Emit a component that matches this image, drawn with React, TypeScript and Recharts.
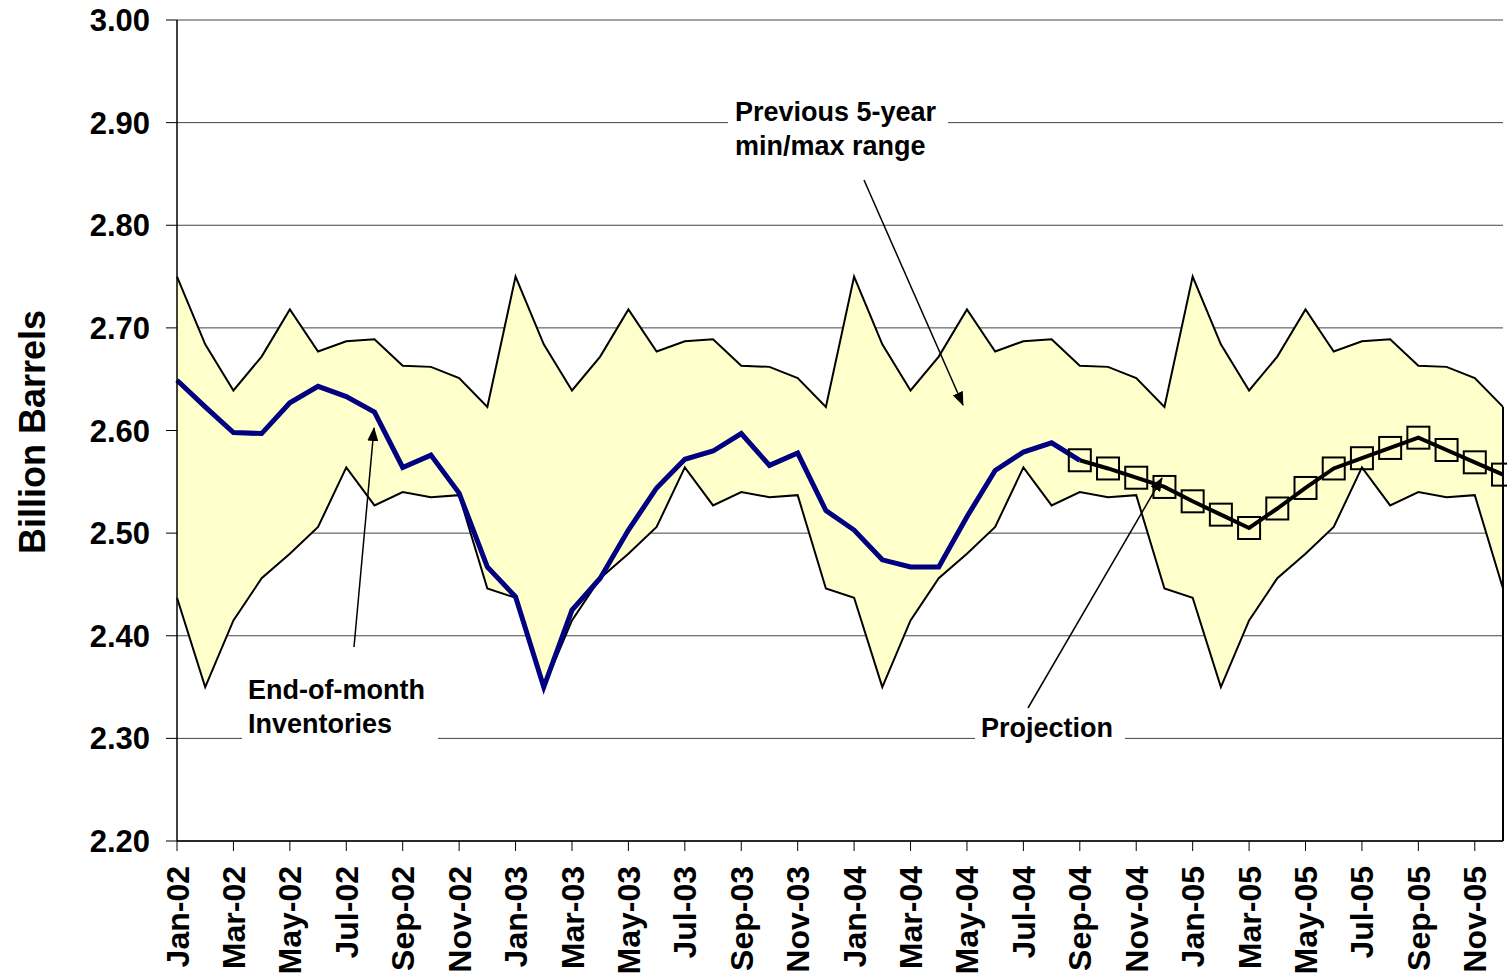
import React from "react";
import {
  ComposedChart,
  Area,
  Line,
  XAxis,
  YAxis,
  CartesianGrid,
  ReferenceLine,
} from "recharts";

const months = [
  "Jan-02", "Feb-02", "Mar-02", "Apr-02", "May-02", "Jun-02", "Jul-02", "Aug-02", "Sep-02", "Oct-02", "Nov-02", "Dec-02",
  "Jan-03", "Feb-03", "Mar-03", "Apr-03", "May-03", "Jun-03", "Jul-03", "Aug-03", "Sep-03", "Oct-03", "Nov-03", "Dec-03",
  "Jan-04", "Feb-04", "Mar-04", "Apr-04", "May-04", "Jun-04", "Jul-04", "Aug-04", "Sep-04", "Oct-04", "Nov-04", "Dec-04",
  "Jan-05", "Feb-05", "Mar-05", "Apr-05", "May-05", "Jun-05", "Jul-05", "Aug-05", "Sep-05", "Oct-05", "Nov-05", "Dec-05",
];

// previous 5-year max / min (billion barrels)
const rangeMax = [
  2.750, 2.684, 2.639, 2.672, 2.718, 2.677, 2.687, 2.689, 2.663, 2.662, 2.651, 2.623,
  2.750, 2.684, 2.639, 2.672, 2.718, 2.677, 2.687, 2.689, 2.663, 2.662, 2.651, 2.623,
  2.750, 2.684, 2.639, 2.672, 2.718, 2.677, 2.687, 2.689, 2.663, 2.662, 2.651, 2.623,
  2.750, 2.684, 2.639, 2.672, 2.718, 2.677, 2.687, 2.689, 2.663, 2.662, 2.651, 2.623,
];
const rangeMin = [
  2.437, 2.350, 2.415, 2.456, 2.480, 2.506, 2.564, 2.527, 2.540, 2.535, 2.537, 2.446,
  2.437, 2.350, 2.415, 2.456, 2.480, 2.506, 2.564, 2.527, 2.540, 2.535, 2.537, 2.446,
  2.437, 2.350, 2.415, 2.456, 2.480, 2.506, 2.564, 2.527, 2.540, 2.535, 2.537, 2.446,
  2.437, 2.350, 2.415, 2.456, 2.480, 2.506, 2.564, 2.527, 2.540, 2.535, 2.537, 2.446,
];

// end-of-month inventories, Jan-02 .. Sep-04
const inventories = [
  2.649, 2.623, 2.598, 2.597, 2.627, 2.643, 2.633, 2.618, 2.564, 2.576, 2.539, 2.467,
  2.438, 2.350, 2.425, 2.456, 2.503, 2.544, 2.572, 2.580, 2.597, 2.566, 2.578, 2.522,
  2.503, 2.474, 2.467, 2.467, 2.516, 2.561, 2.579, 2.588, 2.571,
];

// projection, Sep-04 .. Dec-05
const projectionStart = "Sep-04";
const projection = [
  2.571, 2.563, 2.554, 2.545, 2.531, 2.518, 2.505, 2.524, 2.544, 2.563, 2.573, 2.583,
  2.593, 2.581, 2.569, 2.557,
];

const yTicks = [2.2, 2.3, 2.4, 2.5, 2.6, 2.7, 2.8, 2.9, 3.0];
const yMin = 2.2;
const yMax = 3.0;

const FONT = "'Liberation Sans', Arial, sans-serif";

const projOffset = months.indexOf(projectionStart);
const rows = months.map((m, i) => ({
  month: m,
  max: rangeMax[i],
  min: rangeMin[i],
  range: [rangeMin[i], rangeMax[i]],
  inventory: i < inventories.length ? inventories[i] : null,
  projection: i >= projOffset ? projection[i - projOffset] : null,
}));

const MonthTick = (props: any) => {
  const { x, y, payload } = props;
  return (
    <g transform={`translate(${x},${y})`}>
      <text
        transform="rotate(-90)"
        textAnchor="end"
        dy="0.36em"
        fontFamily={FONT}
        fontWeight="bold"
        fontSize={32}
        fill="#000"
      >
        {payload.value}
      </text>
    </g>
  );
};

const SquareDot = (props: any) => {
  const { cx, cy, index } = props;
  if (cx == null || cy == null) return <g key={index} />;
  return (
    <rect
      key={index}
      x={cx - 11}
      y={cy - 11}
      width={22}
      height={22}
      fill="none"
      stroke="#000"
      strokeWidth={2}
    />
  );
};

// right-hand edge of the range band: from the last max down to the x axis
const lastMax = rangeMax[rangeMax.length - 1];
const EdgeLine = (props: any) => {
  const { x1, y1, y2 } = props;
  const bottom = Math.max(y1, y2);
  const plotTop = Math.min(y1, y2);
  const top = bottom - ((lastMax - yMin) / (yMax - yMin)) * (bottom - plotTop);
  return <line x1={x1} x2={x1} y1={top} y2={bottom} stroke="#000" strokeWidth={2} />;
};

const textStyle = {
  fontFamily: FONT,
  fontWeight: "bold" as const,
  fontSize: 27,
  fill: "#000",
};

export default function App() {
  return (
    <div style={{ position: "absolute", left: 0, top: 0, width: 1507, height: 976, background: "#fff" }}>
      <ComposedChart
        width={1507}
        height={976}
        data={rows}
        margin={{ top: 20, right: 4, bottom: 0, left: 77 }}
      >
        <CartesianGrid vertical={false} stroke="#444" strokeWidth={1} />
        <XAxis
          dataKey="month"
          scale="point"
          interval={1}
          height={135}
          tickSize={10}
          tickMargin={15}
          tick={<MonthTick />}
          axisLine={{ stroke: "#000", strokeWidth: 1.5 }}
          tickLine={{ stroke: "#000" }}
        />
        <YAxis
          domain={[yMin, yMax]}
          ticks={yTicks}
          width={100}
          tickSize={11}
          tickMargin={16}
          tickFormatter={(v: number) => v.toFixed(2)}
          tick={{ fontFamily: FONT, fontWeight: "bold", fontSize: 31, fill: "#000" }}
          axisLine={{ stroke: "#000", strokeWidth: 1.5 }}
          tickLine={{ stroke: "#000" }}
          allowDataOverflow
        />
        <Area
          dataKey="range"
          fill="#FFFFCC"
          fillOpacity={1}
          stroke="none"
          isAnimationActive={false}
        />
        <Line dataKey="max" stroke="#000" strokeWidth={2} dot={false} isAnimationActive={false} />
        <Line dataKey="min" stroke="#000" strokeWidth={2} dot={false} isAnimationActive={false} />
        <ReferenceLine x={months[months.length - 1]} ifOverflow="visible" shape={EdgeLine} />
        <Line
          dataKey="inventory"
          stroke="#000080"
          strokeWidth={5}
          dot={false}
          isAnimationActive={false}
        />
        <Line
          dataKey="projection"
          stroke="#000"
          strokeWidth={4}
          dot={SquareDot}
          isAnimationActive={false}
        />
      </ComposedChart>

      <svg
        width={1507}
        height={976}
        style={{ position: "absolute", left: 0, top: 0, pointerEvents: "none" }}
      >
        <defs>
          <marker id="arrow" viewBox="0 0 14 11" refX="13" refY="5.5" markerWidth="14" markerHeight="11" markerUnits="userSpaceOnUse" orient="auto">
            <path d="M0,0 L14,5.5 L0,11 z" fill="#000" />
          </marker>
        </defs>
        <text
          transform="translate(45,432) rotate(-90)"
          textAnchor="middle"
          fontFamily={FONT}
          fontWeight="bold"
          fontSize={36}
          fill="#000"
        >
          Billion Barrels
        </text>

        <rect x={728} y={95} width={220} height={66} fill="#fff" />
        <text x={735} y={121} {...textStyle}>Previous 5-year</text>
        <text x={735} y={155} {...textStyle}>min/max range</text>
        <line x1={864} y1={180} x2={963} y2={405} stroke="#000" strokeWidth={1.5} markerEnd="url(#arrow)" />

        <rect x={242} y={672} width={196} height={70} fill="#fff" />
        <text x={248} y={699} {...textStyle}>End-of-month</text>
        <text x={248} y={733} {...textStyle}>Inventories</text>
        <line x1={354} y1={647} x2={374} y2={428} stroke="#000" strokeWidth={1.5} markerEnd="url(#arrow)" />

        <rect x={975} y={710} width={150} height={36} fill="#fff" />
        <text x={981} y={737} {...textStyle}>Projection</text>
        <line x1={1028} y1={708} x2={1162} y2={478} stroke="#000" strokeWidth={1.5} markerEnd="url(#arrow)" />
      </svg>
    </div>
  );
}
